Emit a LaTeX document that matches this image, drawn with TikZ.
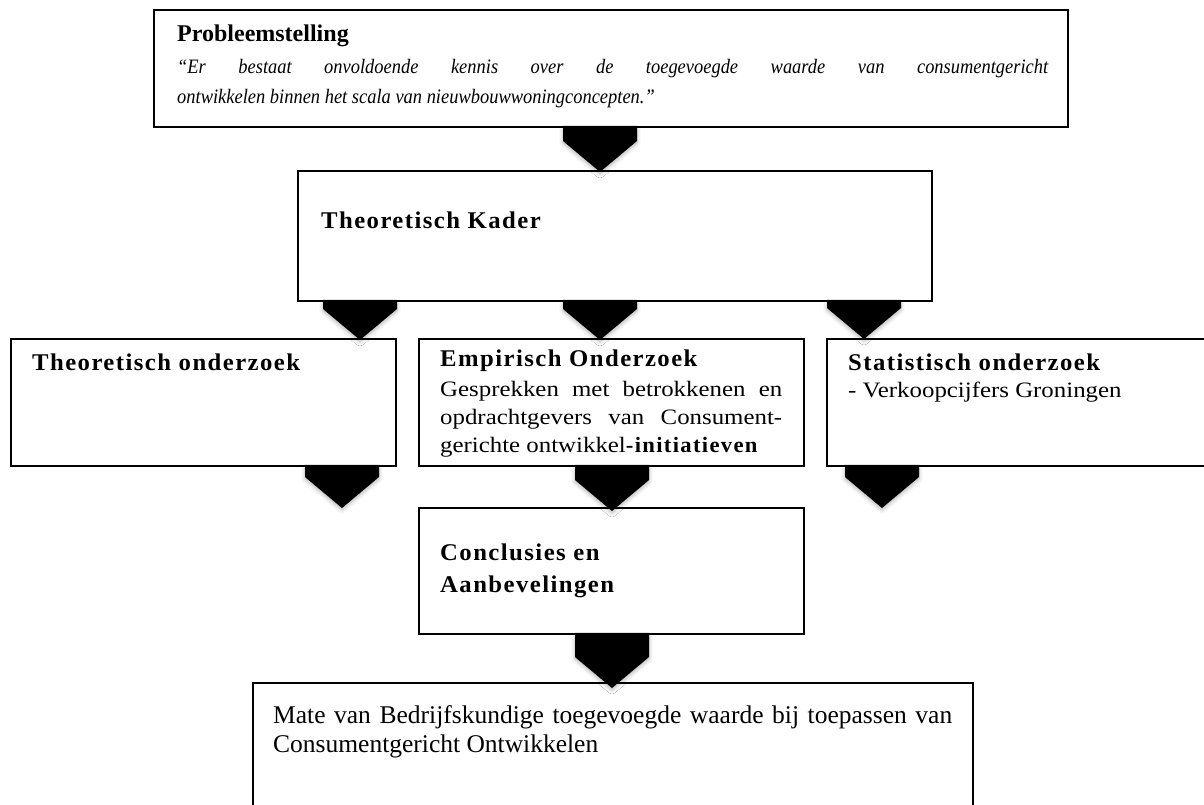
\documentclass[tikz,border=0pt]{standalone}
\usepackage{fontspec}
\setmainfont{Liberation Serif}
\newfontfamily\hdrfont[FakeStretch=1.03,LetterSpace=6]{Liberation Serif}
\newfontfamily\titlefont{Liberation Serif}
\newfontfamily\bodyfont[FakeStretch=1.13]{Liberation Serif}
\newfontfamily\quotefont[FakeStretch=0.9]{Liberation Serif}
\newfontfamily\matefont{Liberation Serif}
\usetikzlibrary{calc,shadows.blur}

\tikzset{
  box/.style={draw, line width=1.8pt, fill=white, rectangle, inner sep=0pt, anchor=north west},
  txt/.style={inner sep=0pt, anchor=base west, align=left},
  hdr/.style={txt, font=\hdrfont\bfseries\fontsize{24}{32}\selectfont},
  title/.style={txt, font=\titlefont\bfseries\fontsize{24}{30}\selectfont},
  body/.style={txt, font=\bodyfont\fontsize{22}{28}\selectfont},
  quote/.style={txt, font=\quotefont\itshape\fontsize{20.5}{30}\selectfont},
  mate/.style={txt, font=\matefont\fontsize{25.5}{29}\selectfont},
  blockarrow/.style={fill=black, blur shadow={shadow xshift=0pt, shadow yshift=-2pt, shadow blur radius=4pt, shadow opacity=30}}
}

% filled block arrow: flat top on the source edge, pointed head at the tip
\newcommand\blockarrow[2]{%
  \fill[blockarrow] ($(#1)+(-37,0)$) -- ($(#1)+(37,0)$) -- ($(#2)+(37,-31)$)
    -- (#2) -- ($(#2)+(-37,-31)$) -- cycle;}

\begin{document}
\begin{tikzpicture}[x=1pt, y=-1pt]
\useasboundingbox (0,0) rectangle (1204,805);
\clip (0,0) rectangle (1204,805);

% boxes
\node[box, minimum width=914, minimum height=117] (prob)  at (153,9)   {};
\node[box, minimum width=634, minimum height=130] (kader) at (297,170) {};
\node[box, minimum width=385, minimum height=127] (theo)  at (10,338)  {};
\node[box, minimum width=385, minimum height=127] (emp)   at (418,338) {};
\node[box, minimum width=420, minimum height=127] (stat)  at (826,338) {};
\node[box, minimum width=385, minimum height=126] (concl) at (418,507) {};
\node[box, minimum width=720, minimum height=160] (res)   at (252,682) {};

% arrow tips
\coordinate (t1) at (600,172);
\coordinate (t2) at (360,340);
\coordinate (t3) at (600,340);
\coordinate (t4) at (864,339);
\coordinate (t5) at (342,508);
\coordinate (t6) at (612,511);
\coordinate (t7) at (882,508);
\coordinate (t8) at (612,688);

\blockarrow{prob.south -| t1}{t1}
\blockarrow{kader.south -| t2}{t2}
\blockarrow{kader.south -| t3}{t3}
\blockarrow{kader.south -| t4}{t4}
\blockarrow{theo.south -| t5}{t5}
\blockarrow{emp.south -| t6}{t6}
\blockarrow{stat.south -| t7}{t7}
\blockarrow{concl.south -| t8}{t8}

% texts (multi-line blocks are placed by the baseline of their last line)
\node[title] (probH) at (177,42) {Probleemstelling};
\node[quote] (probQ) at (177,104) {\makebox[871pt][s]{“Er bestaat onvoldoende kennis over de toegevoegde waarde van consumentgericht}\\
  ontwikkelen binnen het scala van nieuwbouwwoningconcepten.”};

\node[hdr] (kaderH) at (321,229) {Theoretisch Kader};
\node[hdr] (theoH) at (32,370) {Theoretisch onderzoek};

\node[hdr] (empH) at (440,366) {Empirisch Onderzoek};
\node[body] (empB) at (440,452) {\makebox[342pt][s]{Gesprekken met betrokkenen en}\\
  \makebox[342pt][s]{opdrachtgevers van Consument-}\\
  gerichte ontwikkel{\hdrfont\bfseries -initiatieven}};

\node[hdr] (statH) at (848,370) {Statistisch onderzoek};
\node[body] (statB) at (848,397) {- Verkoopcijfers Groningen};

\node[hdr] (conclH) at (440,592) {Conclusies en\\Aanbevelingen};

\node[mate] (resB) at (273,752) {\makebox[679pt][s]{Mate van Bedrijfskundige toegevoegde waarde bij toepassen van}\\
  Consumentgericht Ontwikkelen};
\end{tikzpicture}
\end{document}
